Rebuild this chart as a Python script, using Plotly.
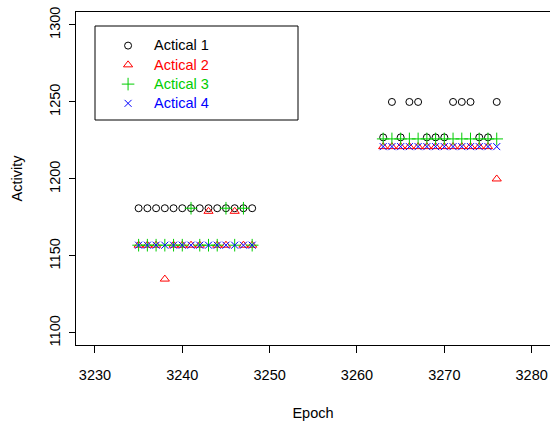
import plotly.graph_objects as go

epoch = [3235, 3236, 3237, 3238, 3239, 3240, 3241, 3242, 3243, 3244, 3245, 3246, 3247, 3248,
         3263, 3264, 3265, 3266, 3267, 3268, 3269, 3270, 3271, 3272, 3273, 3274, 3275, 3276]

actical1 = [1181, 1181, 1181, 1181, 1181, 1181, 1181, 1181, 1181, 1181, 1181, 1181, 1181, 1181,
            1227, 1250, 1227, 1250, 1250, 1227, 1227, 1227, 1250, 1250, 1250, 1227, 1227, 1250]
actical2 = [1157, 1157, 1157, 1135, 1157, 1157, 1157, 1157, 1179, 1157, 1157, 1179, 1157, 1157,
            1221, 1221, 1221, 1221, 1221, 1221, 1221, 1221, 1221, 1221, 1221, 1221, 1221, 1200]
actical3 = [1157, 1157, 1157, 1157, 1157, 1157, 1181, 1157, 1157, 1157, 1181, 1157, 1181, 1157,
            1226, 1226, 1226, 1226, 1226, 1226, 1226, 1226, 1226, 1226, 1226, 1226, 1226, 1226]
actical4 = [1157, 1157, 1157, 1157, 1157, 1157, 1157, 1157, 1157, 1157, 1157, 1157, 1157, 1157,
            1221, 1221, 1221, 1221, 1221, 1221, 1221, 1221, 1221, 1221, 1221, 1221, 1221, 1221]

series_names = ["Actical 1", "Actical 2", "Actical 3", "Actical 4"]
series_colors = ["#000000", "#FF0000", "#00CD00", "#0000FF"]
series_symbols = ["circle-open", "triangle-up-open", "cross-thin-open", "x-thin-open"]
series_sizes = [7, 8, 9, 7]

x_ticks = [3230, 3240, 3250, 3260, 3270, 3280]
y_ticks = [1100, 1150, 1200, 1250, 1300]

FONT = "Liberation Sans, Arial, sans-serif"

fig = go.Figure()
for name, vals, col, sym, sz in zip(series_names, [actical1, actical2, actical3, actical4],
                                    series_colors, series_symbols, series_sizes):
    fig.add_trace(go.Scatter(
        x=epoch, y=vals, mode="markers",
        name=f'<span style="color:{col};font-size:14.5px">{name}</span>',
        marker=dict(symbol=sym, size=sz, color=col, line=dict(width=1, color=col)),
    ))

fig.update_layout(
    width=550, height=421,
    margin=dict(l=76, r=0, t=12, b=76),
    paper_bgcolor="white", plot_bgcolor="white",
    font=dict(family=FONT, size=14.5, color="#000000"),
    showlegend=True,
    legend=dict(x=0.055, y=0.943, xanchor="left", yanchor="top",
                bgcolor="rgba(0,0,0,0)", borderwidth=0, itemwidth=42,
                font=dict(family=FONT, size=12.5), tracegroupgap=0),
    xaxis=dict(range=[3227.83, 3282.1], tickvals=x_ticks, ticks="outside", ticklen=7,
               tickcolor="#000", showline=True, linecolor="#000", linewidth=1, mirror=True,
               showgrid=False, zeroline=False, ticklabelstandoff=10,
               title=dict(text="Epoch", standoff=26, font=dict(size=14.5))),
    yaxis=dict(range=[1092.2, 1308.4], tickvals=y_ticks, ticks="outside", ticklen=6,
               tickcolor="#000", showline=True, linecolor="#000", linewidth=1, mirror=False,
               showgrid=False, zeroline=False, tickangle=-90, ticklabelstandoff=3,
               title=dict(text="Activity", standoff=21, font=dict(size=14.5))),
    shapes=[dict(type="rect", xref="paper", yref="paper",
                 x0=(95 - 76) / 474, x1=(298 - 76) / 474,
                 y0=1 - (120 - 12) / 333, y1=1 - (26 - 12) / 333,
                 line=dict(color="#000", width=1), fillcolor="rgba(0,0,0,0)")],
)

fig.write_html("out.html")
